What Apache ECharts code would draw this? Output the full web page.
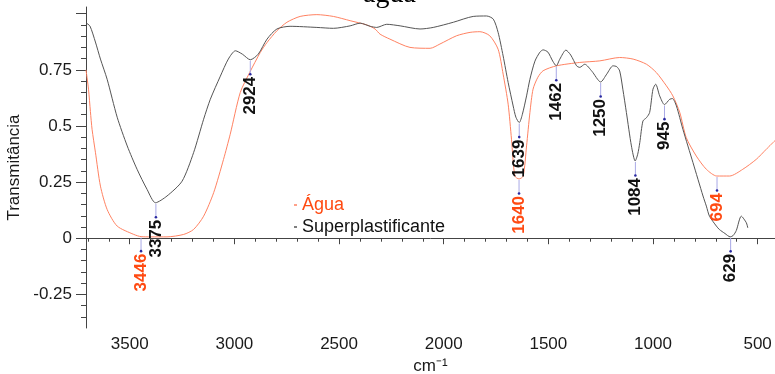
<!DOCTYPE html>
<html><head><meta charset="utf-8">
<script src="https://cdn.jsdelivr.net/npm/echarts@6/dist/echarts.min.js"></script>
<style>html,body{margin:0;padding:0;background:#fff}#c{width:775px;height:374px}</style>
</head><body><div id="c"></div>
<script>
// Água (water) spectrum: wavenumber (cm-1) and transmittance
const aguaX = [3709,3697,3688,3680,3664,3640,3608,3560,3481,3446,3401,3322,3242,3195,3147,3099,3052,3020,2972,2927,2876,2844,2797,2749,2686,2606,2527,2447,2367,2328,2304,2257,2161,2065,2018,1938,1874,1827,1780,1740,1716,1692,1676,1660,1640,1620,1604,1588,1573,1550,1525,1461,1350,1254,1159,1095,1031,984,936,905,872,841,793,745,695,634,571,507,459,417];
const aguaY = [0.75,0.664,0.565,0.485,0.383,0.232,0.128,0.054,0.017,0.007,0.006,0.006,0.017,0.039,0.098,0.203,0.351,0.463,0.649,0.738,0.828,0.872,0.924,0.962,0.988,0.996,0.988,0.969,0.95,0.932,0.909,0.887,0.85,0.846,0.865,0.902,0.917,0.92,0.902,0.842,0.731,0.597,0.441,0.277,0.264,0.277,0.411,0.56,0.664,0.717,0.746,0.768,0.783,0.79,0.805,0.798,0.775,0.738,0.679,0.634,0.56,0.448,0.366,0.307,0.277,0.277,0.307,0.351,0.396,0.435];
// Superplastificante spectrum
const superX = [3707,3690,3664,3640,3608,3560,3512,3465,3417,3377,3322,3250,3195,3147,3115,3067,3029,2995,2962,2924,2886,2844,2797,2734,2606,2527,2447,2399,2351,2320,2272,2208,2113,2050,1954,1859,1795,1763,1740,1716,1692,1668,1655,1639,1624,1604,1588,1564,1540,1525,1502,1479,1462,1445,1416,1393,1365,1350,1326,1292,1250,1221,1191,1173,1159,1144,1127,1103,1085,1073,1063,1048,1031,1016,1000,987,968,945,920,907,888,857,809,761,745,730,697,683,656,631,617,602,578,554,547];
const superY = [0.958,0.945,0.874,0.798,0.708,0.539,0.411,0.307,0.217,0.158,0.188,0.254,0.381,0.53,0.619,0.722,0.798,0.835,0.82,0.795,0.82,0.887,0.932,0.944,0.939,0.935,0.946,0.958,0.944,0.939,0.953,0.946,0.932,0.939,0.962,0.988,0.99,0.976,0.917,0.812,0.694,0.589,0.539,0.515,0.552,0.634,0.708,0.789,0.829,0.839,0.829,0.789,0.768,0.798,0.838,0.816,0.768,0.761,0.775,0.744,0.696,0.731,0.768,0.764,0.745,0.664,0.56,0.411,0.344,0.374,0.426,0.522,0.537,0.56,0.664,0.686,0.634,0.595,0.619,0.622,0.589,0.485,0.337,0.188,0.143,0.098,0.054,0.039,0.021,0.006,0.012,0.034,0.098,0.069,0.046];
// Peak annotations
const superPeaks = [2924,3375,1639,1462,1250,1084,945,629];
const superPeakT = [0.795,0.158,0.515,0.768,0.696,0.344,0.595,0.006];
const aguaPeaks = [3446,1640,694];
const aguaPeakT = [0.007,0.264,0.277];
// Axis ticks
const xMajorTicks = [3500,3000,2500,2000,1500,1000,500];
const xMinorTicks = [3700,3600,3400,3300,3200,3100,2900,2800,2700,2600,2400,2300,2200,2100,1900,1800,1700,1600,1400,1300,1200,1100,900,800,700,600];
const yLabelTicks = [-0.25,0,0.25,0.5,0.75];
const yMajorTicks = [-0.25,0,0.25,0.5,0.75,1];
const yMinorTicks = [-0.35,-0.3,-0.2,-0.15,-0.1,-0.05,0.05,0.1,0.15,0.2,0.3,0.35,0.4,0.45,0.55,0.6,0.65,0.7,0.8,0.85,0.9,0.95];

const FONT = '"Liberation Sans", Arial, sans-serif';
const ORANGE_LINE = '#ff8262';
const ORANGE_TEXT = '#ff4a12';
const GRAY_LINE = '#555555';
const AXIS = '#444444';

function pairs(xs, ys){ return xs.map((x,i)=>[x, ys[i]]); }

function annot(peaks, peakT, color){
  return {
    type:'custom', xAxisIndex:0, yAxisIndex:0, silent:true, z:10,
    data: pairs(peaks, peakT),
    renderItem:function(params, api){
      const v = api.value(0), t = api.value(1);
      const p = api.coord([v, t]);
      const gap = 14.5;
      return {type:'group', children:[
        {type:'line', shape:{x1:p[0], y1:p[1]+1, x2:p[0], y2:p[1]+gap}, style:{stroke:'#a9a9e6', lineWidth:1}},
        {type:'circle', shape:{cx:p[0], cy:p[1]+gap, r:1.3}, style:{fill:'#2a2aa0'}},
        {type:'text', x:p[0], y:p[1]+gap+2.5, rotation:Math.PI/2,
          style:{text:String(v), fill:color, font:'bold 17px "Liberation Sans", Arial, sans-serif',
            textAlign:'right', align:'right', textVerticalAlign:'middle', verticalAlign:'middle'}}
      ]};
    }
  };
}

const plain = v => String(v);

const chart = echarts.init(document.getElementById('c'), null, {renderer:'canvas'});
chart.setOption({
  animation:false,
  backgroundColor:'#ffffff',
  grid:{left:86, right:0, top:7, bottom:46, containLabel:false, outerBoundsMode:'none'},
  graphic:[{type:'text', x:363, y:-5, z:100,
    style:{text:'água', font:'28px "Liberation Serif", "Times New Roman", serif', fill:'#000',
      textAlign:'left', align:'left', textVerticalAlign:'middle', verticalAlign:'middle'}}],
  legend:{
    orient:'vertical', left:289, top:191, itemWidth:3, itemHeight:1.5, itemGap:4, icon:'rect',
    textStyle:{fontSize:18, fontFamily:FONT},
    data:[{name:'Água', textStyle:{color:ORANGE_TEXT}}, {name:'Superplastificante', textStyle:{color:'#111'}}]
  },
  xAxis:[{
    type:'value', inverse:true, min:417, max:3709, position:'bottom',
    axisLine:{show:true, lineStyle:{color:AXIS, width:1}},
    axisTick:{show:true, customValues:xMajorTicks, length:6, lineStyle:{color:AXIS}},
    axisLabel:{customValues:xMajorTicks, formatter:plain, fontSize:17, fontFamily:FONT, color:'#1a1a1a', margin:8},
    splitLine:{show:false},
    name:'cm⁻¹', nameLocation:'middle', nameGap:27,
    nameTextStyle:{fontSize:17, fontFamily:FONT, color:'#1a1a1a'}
  },{
    type:'value', inverse:true, min:417, max:3709, position:'bottom',
    axisLine:{show:false},
    axisTick:{show:true, customValues:xMinorTicks, length:3.5, lineStyle:{color:AXIS}},
    axisLabel:{show:false}, splitLine:{show:false}
  }],
  yAxis:[{
    type:'value', min:-0.4, max:1.03, position:'left',
    axisLine:{show:true, lineStyle:{color:AXIS, width:1}},
    axisTick:{show:true, customValues:yMajorTicks, length:10, lineStyle:{color:AXIS}},
    axisLabel:{customValues:yLabelTicks, formatter:plain, fontSize:17, fontFamily:FONT, color:'#1a1a1a', margin:14},
    splitLine:{show:false},
    name:'Transmitância', nameLocation:'middle', nameGap:55,
    nameTextStyle:{fontSize:17, fontFamily:FONT, color:'#1a1a1a'}
  },{
    type:'value', min:-0.4, max:1.03, position:'left',
    axisLine:{show:false},
    axisTick:{show:true, customValues:yMinorTicks, length:5, lineStyle:{color:AXIS}},
    axisLabel:{show:false}, splitLine:{show:false}
  }],
  series:[
    {name:'Água', type:'line', xAxisIndex:0, yAxisIndex:0, data:pairs(aguaX, aguaY), showSymbol:false,
      smooth:0.25, lineStyle:{color:ORANGE_LINE, width:1}, itemStyle:{color:ORANGE_LINE}, z:2},
    {name:'Superplastificante', type:'line', xAxisIndex:0, yAxisIndex:0, data:pairs(superX, superY), showSymbol:false,
      smooth:0.25, lineStyle:{color:GRAY_LINE, width:1}, itemStyle:{color:GRAY_LINE}, z:3},
    annot(superPeaks, superPeakT, '#111111'),
    annot(aguaPeaks, aguaPeakT, ORANGE_TEXT)
  ]
});
</script></body></html>
